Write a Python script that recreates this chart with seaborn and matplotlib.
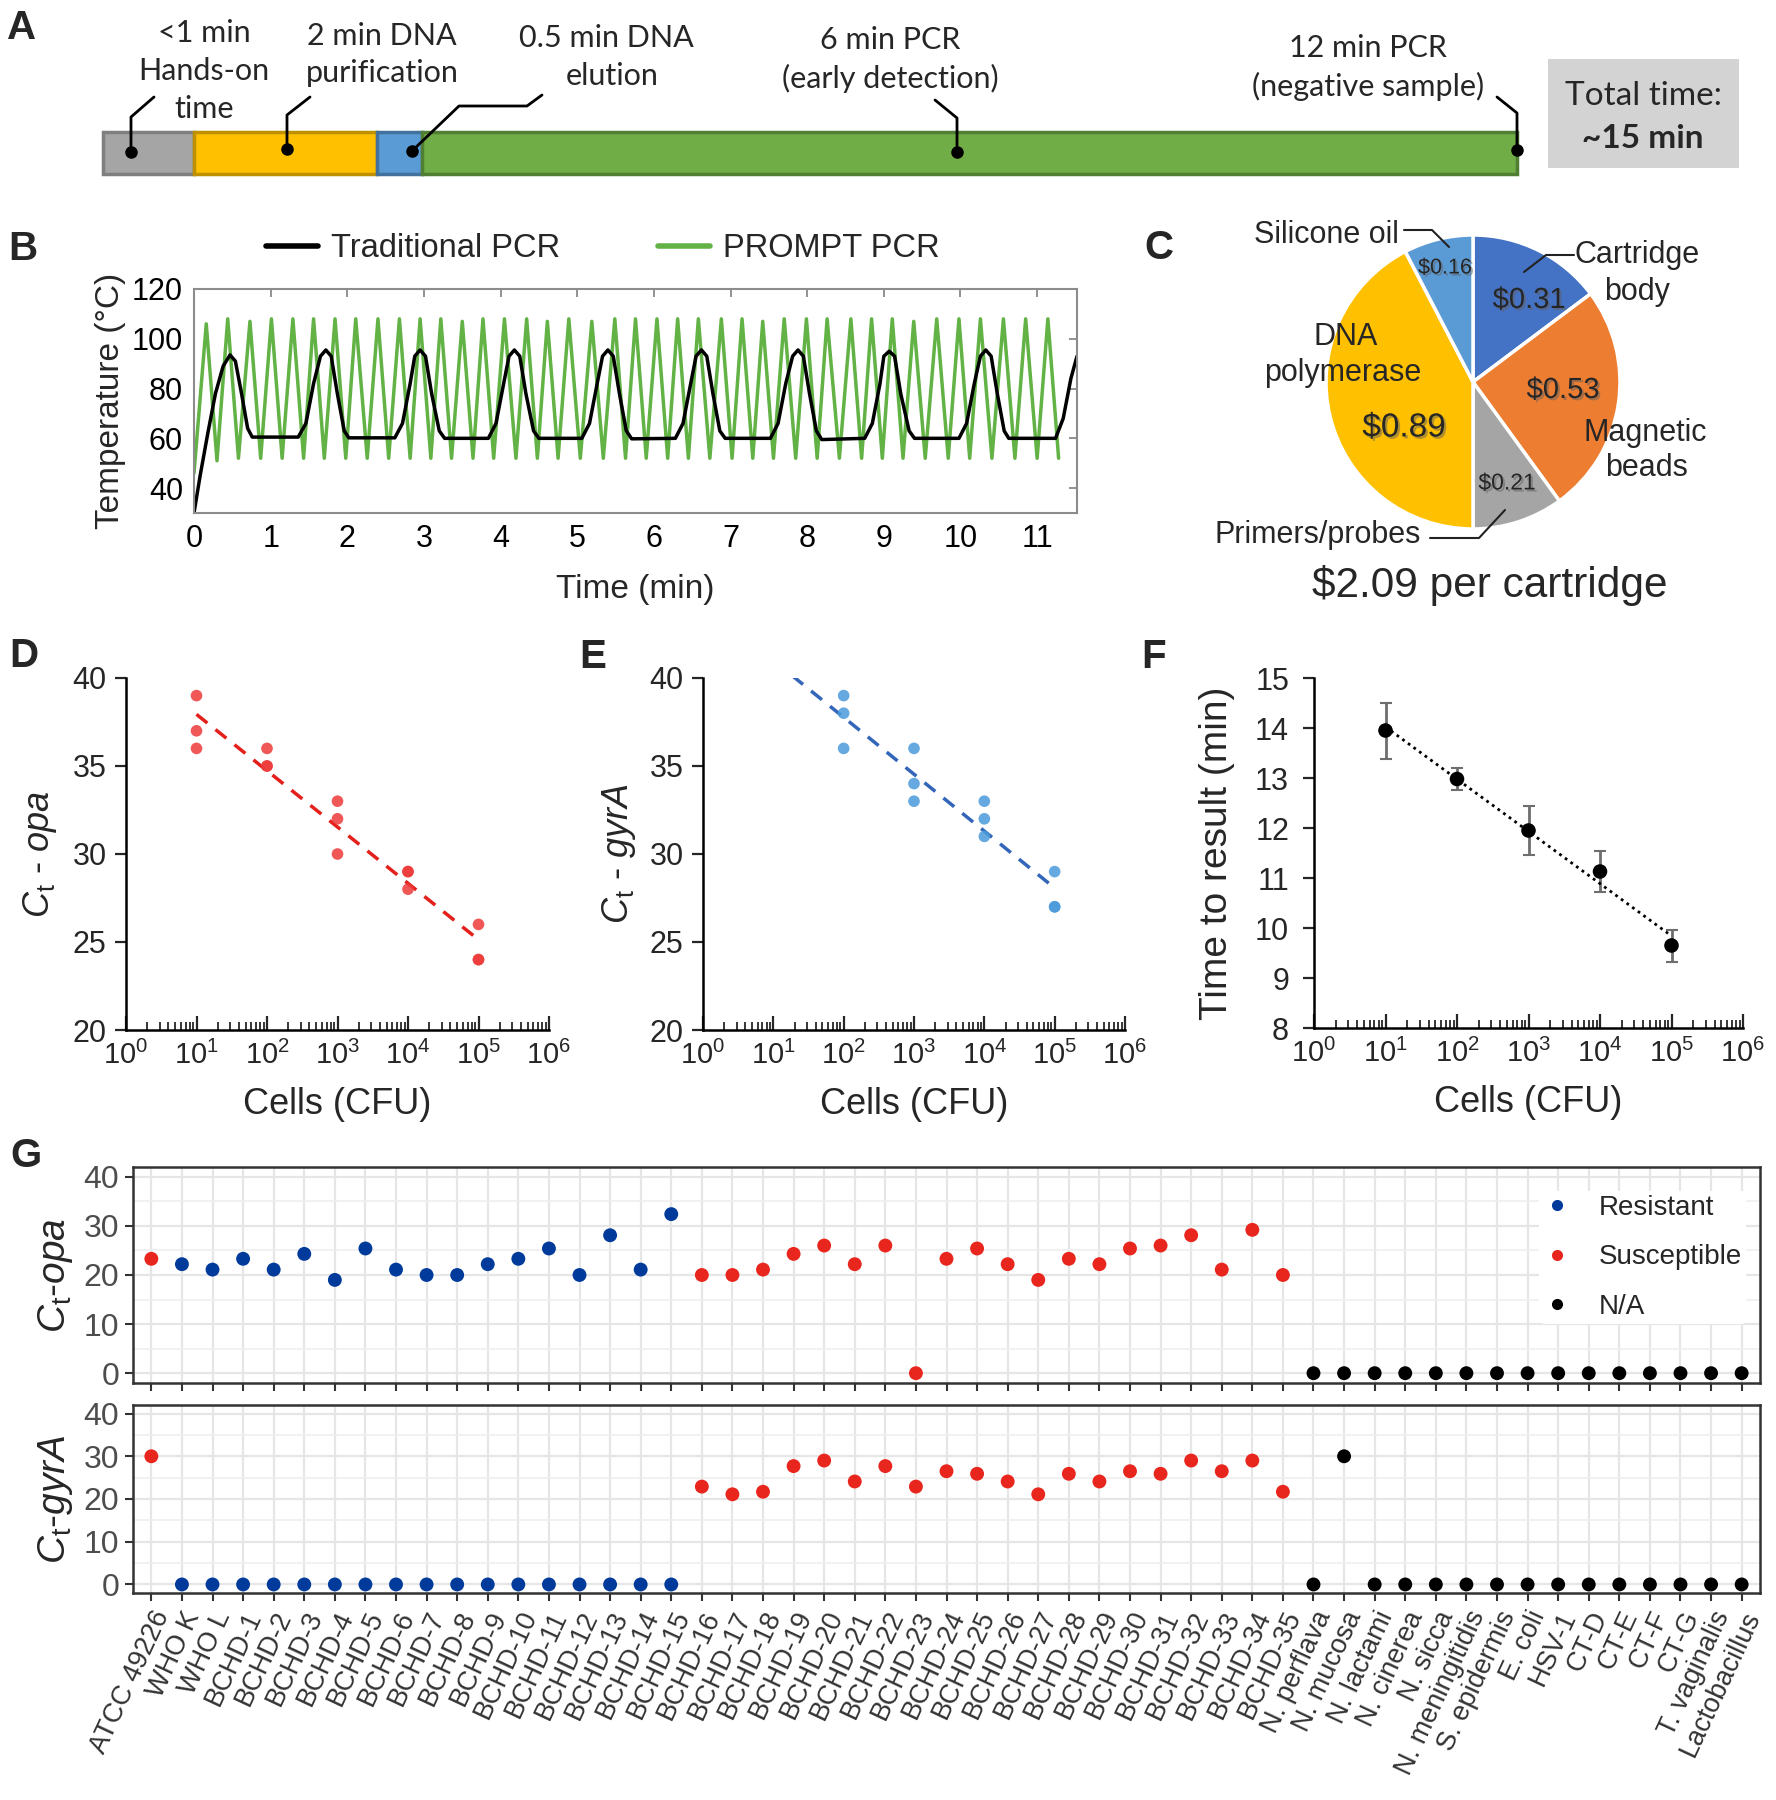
import numpy as np
import pandas as pd
import matplotlib
matplotlib.use("Agg")
import matplotlib.pyplot as plt
import matplotlib.patheffects as pe
from matplotlib.patches import Rectangle
from matplotlib.ticker import LogLocator, NullFormatter, MultipleLocator
import seaborn as sns

# ---------------- A: workflow timeline ----------------
stepMinutes = [1, 2, 0.5, 12]
stepColors = ["#A5A5A5", "#FFC000", "#5B9BD5", "#70AD47"]
stepEdges = ["#7F7F7F", "#BF9000", "#41719C", "#507E32"]

# ---------------- B: thermal profiles ----------------
tradTime = [0.00, 0.08, 0.18, 0.28, 0.38, 0.47, 0.54, 0.62, 0.70, 0.76,
            1.36, 1.46, 1.56, 1.65, 1.72, 1.79, 1.87, 1.96, 2.02,
            2.62, 2.72, 2.82, 2.88, 2.95, 3.02, 3.10, 3.20, 3.27,
            3.84, 3.94, 4.04, 4.11, 4.18, 4.25, 4.33, 4.43, 4.50,
            5.06, 5.16, 5.26, 5.33, 5.40, 5.47, 5.55, 5.64, 5.71,
            6.28, 6.38, 6.48, 6.55, 6.62, 6.69, 6.77, 6.86, 6.93,
            7.52, 7.62, 7.72, 7.81, 7.88, 7.95, 8.03, 8.12, 8.19,
            8.75, 8.85, 8.95, 9.00, 9.07, 9.14, 9.22, 9.33, 9.40,
            9.98, 10.08, 10.18, 10.26, 10.33, 10.40, 10.48, 10.57, 10.63,
            11.24, 11.34, 11.44, 11.52]
tradTemp = [30, 45, 62, 78, 89, 93.5, 91, 78, 64, 60.5,
            60.5, 66, 82, 93, 95.5, 93, 78, 63, 60.2,
            60.2, 66, 82, 93, 95.5, 93, 78, 63, 60,
            60, 66, 82, 93, 95.5, 93, 78, 63, 60,
            60, 66, 82, 93, 95.5, 93, 78, 63, 59.8,
            60, 66, 82, 93, 95.5, 93, 78, 63, 60,
            60, 66, 82, 93, 95.5, 93, 78, 63, 59.5,
            60, 66, 82, 93, 95, 93, 78, 63, 60,
            60, 66, 82, 93, 95.5, 93, 78, 63, 60,
            60, 68, 84, 93]
promptStart = (0.0, 46)
promptPeakTime = [0.16, 0.44, 0.73, 1.01, 1.29, 1.56, 1.84, 2.11, 2.40, 2.68,
                  2.95, 3.22, 3.50, 3.77, 4.05, 4.34, 4.61, 4.89, 5.19, 5.49,
                  5.76, 6.04, 6.31, 6.58, 6.88, 7.15, 7.42, 7.70, 7.99, 8.26,
                  8.57, 8.84, 9.11, 9.39, 9.69, 9.98, 10.26, 10.56, 10.85, 11.14]
promptPeakTemp = [106, 108, 107, 108, 108, 108, 108, 108, 108, 108,
                  108, 108, 107, 108, 108, 108, 107, 108, 107, 108,
                  108, 108, 108, 108, 108, 108, 107, 108, 108, 108,
                  108, 108, 108, 107, 108, 108, 108, 108, 108, 108]
promptTroughTime = [0.30, 0.58, 0.87, 1.15, 1.43, 1.70, 1.98, 2.26, 2.54, 2.82,
                    3.09, 3.36, 3.64, 3.91, 4.20, 4.48, 4.75, 5.04, 5.34, 5.63,
                    5.90, 6.18, 6.45, 6.73, 7.02, 7.29, 7.56, 7.85, 8.13, 8.42,
                    8.71, 8.98, 9.25, 9.54, 9.84, 10.12, 10.41, 10.71, 11.00, 11.28]
promptTroughTemp = [51, 52, 52, 52, 52, 52, 52, 52, 52, 52,
                    52, 52, 52, 52, 52, 52, 52, 52, 52, 52,
                    52, 52, 52, 52, 52, 52, 52, 52, 52, 52,
                    52, 52, 52, 52, 52, 52, 52, 52, 52, 52]

# ---------------- C: cost breakdown ----------------
costItems = ["Cartridge body", "Magnetic beads", "Primers/probes", "DNA polymerase", "Silicone oil"]
costValues = [0.31, 0.53, 0.21, 0.89, 0.16]
costColors = ["#4472C4", "#ED7D31", "#A5A5A5", "#FFC000", "#5B9BD5"]

# ---------------- D / E / F: dilution series ----------------
cellsD = [10, 10, 10, 100, 100, 100, 1e3, 1e3, 1e3, 1e4, 1e4, 1e4, 1e5, 1e5, 1e5]
ctOpa = [39, 37, 36, 36, 35, 35, 33, 32, 30, 29, 29, 28, 26, 24, 24]
cellsE = [100, 100, 100, 1e3, 1e3, 1e3, 1e4, 1e4, 1e4, 1e5, 1e5, 1e5]
ctGyrA = [39, 38, 36, 36, 34, 33, 33, 32, 31, 29, 27, 27]
trendX = [10, 1e5]
cellsF = [10, 100, 1e3, 1e4, 1e5]
timeF = [13.95, 12.98, 11.95, 11.13, 9.65]
errF = [0.56, 0.22, 0.49, 0.41, 0.32]

# ---------------- G: clinical isolates ----------------
strains = (["ATCC 49226", "WHO K", "WHO L"] + [f"BCHD-{i}" for i in range(1, 36)] +
           ["N. perflava", "N. mucosa", "N. lactami", "N. cinerea", "N. sicca",
            "N. meningitidis", "S. epidermis", "E. coli", "HSV-1", "CT-D", "CT-E",
            "CT-F", "CT-G", "T. vaginalis", "Lactobacillus"])
status = ["Susceptible"] + ["Resistant"] * 17 + ["Susceptible"] * 20 + ["N/A"] * 15
ctOpaG = [23.3, 22.2, 21.1, 23.3, 21.1, 24.3, 19.0, 25.4, 21.1, 20.0, 20.0, 22.2,
          23.3, 25.4, 20.0, 28.1, 21.1, 32.4,
          20.0, 20.0, 21.1, 24.3, 26.0, 22.2, 26.0, 0, 23.3, 25.4, 22.2, 19.0,
          23.3, 22.2, 25.4, 26.0, 28.1, 21.1, 29.2, 20.0,
          0, 0, 0, 0, 0, 0, 0, 0, 0, 0, 0, 0, 0, 0, 0]
ctGyrAG = [30, 0, 0, 0, 0, 0, 0, 0, 0, 0, 0, 0, 0, 0, 0, 0, 0, 0,
           22.9, 21.1, 21.7, 27.7, 29.0, 24.1, 27.7, 22.9, 26.5, 25.9, 24.1, 21.1,
           25.9, 24.1, 26.5, 25.9, 29.0, 26.5, 29.0, 21.7,
           0, 30, 0, 0, 0, 0, 0, 0, 0, 0, 0, 0, 0, 0, 0]
statusColors = {"Resistant": "#003A9B", "Susceptible": "#E8261E", "N/A": "#000000"}

sns.set_style("white")
plt.rcParams["font.family"] = ["Liberation Sans", "DejaVu Sans"]
plt.rcParams["mathtext.fontset"] = "custom"
plt.rcParams["mathtext.rm"] = "Liberation Sans"
plt.rcParams["mathtext.it"] = "Liberation Sans:italic"
plt.rcParams["mathtext.bf"] = "Liberation Sans:bold"
plt.rcParams["axes.unicode_minus"] = False

W, H = 1776, 1800
fig = plt.figure(figsize=(W / 100, H / 100), dpi=100)


def rect(x0, y0, x1, y1):
    return [x0 / W, 1 - y1 / H, (x1 - x0) / W, (y1 - y0) / H]


overlay = fig.add_axes([0, 0, 1, 1], zorder=10)
overlay.set_xlim(0, W)
overlay.set_ylim(H, 0)
overlay.axis("off")

# panel letters
for letter, x, y in [("A", 22, 28), ("B", 23, 249), ("C", 1159, 248), ("D", 24, 656),
                     ("E", 593, 657), ("F", 1154, 657), ("G", 26, 1156)]:
    overlay.text(x, y, letter, fontsize=29, fontweight="bold", ha="center", va="center")

# ---------------- A ----------------
pxPerMin = 91.2
barLeft = 103
axA = fig.add_axes(rect(0, 0, W, 210))
axA.set_xlim(-barLeft / pxPerMin, (W - barLeft) / pxPerMin)
axA.set_ylim(210, 0)
axA.axis("off")
starts = np.cumsum([0] + stepMinutes[:-1])
axA.barh(153, stepMinutes, left=starts, height=42, color=stepColors,
         edgecolor=stepEdges, linewidth=2.5)

leaders = [
    [(131, 152), (131, 117), (154, 97)],
    [(287, 149), (287, 115), (310, 97)],
    [(412, 151), (459, 106), (527, 106), (542, 95)],
    [(957, 152), (957, 118), (935, 100)],
    [(1517, 150), (1517, 113), (1497, 97)],
]
for pts in leaders:
    xs, ys = zip(*pts)
    overlay.plot(xs, ys, color="black", lw=2)
    overlay.plot(xs[0], ys[0], "o", color="black", ms=8)

aFont = ["Lato", "DejaVu Sans"]
for x, y, s in [(204, 33, "<1 min"), (204, 71, "Hands-on"), (204, 109, "time"),
                (382, 36, "2 min DNA"), (382, 73, "purification"),
                (606, 38, "0.5 min DNA"), (612, 76, "elution"),
                (890, 40, "6 min PCR"), (890, 78, "(early detection)"),
                (1368, 48, "12 min PCR"), (1368, 86, "(negative sample)")]:
    overlay.text(x, y, s, fontsize=22, family=aFont, ha="center", va="center")
overlay.add_patch(Rectangle((1548, 59), 191, 109, facecolor="#D3D3D3", edgecolor="none"))
overlay.text(1643, 96, "Total time:", fontsize=24, family=aFont, ha="center", va="center")
overlay.text(1643, 138, "~15 min", fontsize=24, family=aFont, fontweight="bold",
             ha="center", va="center")

# ---------------- B ----------------
promptTime = [promptStart[0]]
promptTemp = [promptStart[1]]
for pt, pv, tt, tv in zip(promptPeakTime, promptPeakTemp, promptTroughTime, promptTroughTemp):
    promptTime += [pt, tt]
    promptTemp += [pv, tv]
dfB = pd.DataFrame({
    "time": promptTime + tradTime,
    "temp": promptTemp + tradTemp,
    "protocol": ["PROMPT PCR"] * len(promptTime) + ["Traditional PCR"] * len(tradTime),
})
axB = fig.add_axes(rect(194, 289, 1077, 513))
sns.lineplot(data=dfB, x="time", y="temp", hue="protocol",
             hue_order=["PROMPT PCR", "Traditional PCR"],
             palette={"PROMPT PCR": "#62B246", "Traditional PCR": "black"},
             estimator=None, sort=False, linewidth=2.5, solid_joinstyle="round", ax=axB)
leg = axB.get_legend()
handles = list(leg.legend_handles)[::-1]
labels = [t.get_text() for t in leg.get_texts()][::-1]
legB = axB.legend(handles, labels, loc="center", bbox_to_anchor=(0.463, 1.179), ncol=2,
                  frameon=False, fontsize=23.5, handlelength=1.6, handletextpad=0.4,
                  columnspacing=3.0)
for h in legB.legend_handles:
    h.set_linewidth(4)
axB.set_xlim(0, 11.52)
axB.set_ylim(30, 120)
axB.set_xticks(range(0, 12))
axB.set_yticks([40, 60, 80, 100, 120])
axB.tick_params(direction="in", top=True, right=True, length=6, width=1.2,
                colors="#7F7F7F", labelcolor="black", labelsize=22, pad=8)
for sp in axB.spines.values():
    sp.set_color("#8C8C8C")
    sp.set_linewidth(1.5)
axB.set_xlabel("Time (min)", fontsize=24, labelpad=14)
axB.set_ylabel("Temperature (°C)", fontsize=24, labelpad=4)

# ---------------- C ----------------
half = 150
axC = fig.add_axes(rect(1473 - half, 382 - half, 1473 + half, 382 + half))
axC.pie(costValues, colors=costColors, startangle=90, counterclock=False, radius=1,
        wedgeprops=dict(edgecolor="white", linewidth=2.5))
axC.set_xlim(-half / 147, half / 147)
axC.set_ylim(-half / 147, half / 147)
shadow = [pe.SimplePatchShadow(offset=(1.5, -1.5), shadow_rgbFace="#606060", alpha=0.5), pe.Normal()]
for x, y, s, fs in [(1445, 268, "$0.16", 15.5), (1529, 300, "$0.31", 21), (1563, 390, "$0.53", 21),
                    (1507, 483, "$0.21", 16.5), (1404, 428, "$0.89", 24)]:
    overlay.text(x, y, s, fontsize=fs, ha="center", va="center", path_effects=shadow)
for x, y, s in [(1637, 255, "Cartridge"), (1637, 292, "body"), (1645, 433, "Magnetic"),
                (1647, 468, "beads"), (1346, 337, "DNA"), (1343, 373, "polymerase"),
                (1326, 235, "Silicone oil"), (1318, 535, "Primers/probes")]:
    overlay.text(x, y, s, fontsize=22, ha="center", va="center")
for pts in [[(1524, 272), (1546, 255), (1574, 255)],
            [(1404, 230), (1432, 230), (1449, 247)],
            [(1430, 538), (1479, 538), (1505, 510)]]:
    xs, ys = zip(*pts)
    overlay.plot(xs, ys, color="#222222", lw=1.5)
overlay.text(1490, 585, "$2.09 per cartridge", fontsize=30.5, ha="center", va="center")


# ---------------- D / E / F ----------------
def styleLog(ax, ylo, yhi, step):
    ax.set_xscale("log")
    ax.set_xlim(1, 1e6)
    ax.set_ylim(ylo, yhi)
    ax.yaxis.set_major_locator(MultipleLocator(step))
    ax.xaxis.set_major_locator(LogLocator(base=10, numticks=10))
    ax.xaxis.set_minor_locator(LogLocator(base=10, subs=np.arange(2, 10), numticks=20))
    ax.xaxis.set_minor_formatter(NullFormatter())
    sns.despine(ax=ax)
    for sp in ["left", "bottom"]:
        ax.spines[sp].set_linewidth(1.8)
        ax.spines[sp].set_color("black")
    ax.tick_params(axis="x", which="major", direction="in", length=10, width=1.6,
                   labelsize=21, pad=8, bottom=True)
    ax.tick_params(axis="x", which="minor", direction="in", length=6, width=1.3, bottom=True)
    ax.tick_params(axis="y", direction="out", length=8, width=1.6, labelsize=22, pad=6, left=True)
    ax.set_xlabel("Cells (CFU)", fontsize=26, labelpad=12)


axD = fig.add_axes(rect(126, 678, 549, 1030))
sns.scatterplot(x=cellsD, y=ctOpa, color="#EE3B3B", alpha=0.85, s=70, edgecolor="none",
                ax=axD, zorder=3)
fitD = np.polyfit(np.log10(cellsD), ctOpa, 1)
sns.lineplot(x=trendX, y=np.polyval(fitD, np.log10(trendX)), color="#E3201B",
             linestyle=(0, (4, 3)), linewidth=2.5, ax=axD)
styleLog(axD, 20, 40, 5)
axD.set_ylabel(r"$C_{\mathrm{t}}$ - $\mathit{opa}$", fontsize=26, labelpad=10)

axE = fig.add_axes(rect(703, 678, 1125, 1030))
sns.scatterplot(x=cellsE, y=ctGyrA, color="#4A9ADB", alpha=0.85, s=70, edgecolor="none",
                ax=axE, zorder=3)
fitE = np.polyfit(np.log10(cellsE), ctGyrA, 1)
sns.lineplot(x=trendX, y=np.polyval(fitE, np.log10(trendX)), color="#3366B8",
             linestyle=(0, (4, 3)), linewidth=2.5, ax=axE)
styleLog(axE, 20, 40, 5)
axE.set_ylabel(r"$C_{\mathrm{t}}$ - $\mathit{gyrA}$", fontsize=26, labelpad=8)

axF = fig.add_axes(rect(1314, 678, 1743, 1028))
axF.errorbar(cellsF, timeF, yerr=errF, fmt="none", ecolor="#6E6E6E", elinewidth=2,
             capsize=4, capthick=1.5, zorder=2)
fitF = np.polyfit(np.log10(cellsF), timeF, 1)
sns.lineplot(x=trendX, y=np.polyval(fitF, np.log10(trendX)), color="black",
             linestyle=(0, (1, 1.5)), linewidth=2, ax=axF)
sns.scatterplot(x=cellsF, y=timeF, color="black", s=110, edgecolor="none", ax=axF, zorder=3)
styleLog(axF, 8, 15, 1)
axF.tick_params(axis="y", pad=10)
axF.set_ylabel("Time to result (min)", fontsize=28, labelpad=14)

# ---------------- G ----------------
dfG = pd.DataFrame({"strain": strains, "opa": ctOpaG, "gyrA": ctGyrAG, "status": status})
axG1 = fig.add_axes(rect(133, 1167, 1760, 1383))
axG2 = fig.add_axes(rect(133, 1405, 1760, 1593))
for ax, col, showLegend in [(axG1, "opa", True), (axG2, "gyrA", False)]:
    sns.scatterplot(data=dfG, x="strain", y=col, hue="status",
                    hue_order=["Resistant", "Susceptible", "N/A"], palette=statusColors,
                    s=100, edgecolor="none", legend=showLegend, ax=ax, zorder=3)
    ax.set_xlim(-0.6, len(strains) - 0.4)
    ax.set_ylim(-2, 42)
    ax.set_xticks(range(len(strains)))
    ax.set_yticks([0, 10, 20, 30, 40])
    ax.yaxis.set_minor_locator(MultipleLocator(5))
    ax.set_axisbelow(True)
    ax.grid(which="major", axis="both", color="#E6E6E6", lw=1.6)
    ax.grid(which="minor", axis="y", color="#EEEEEE", lw=1.1)
    for sp in ax.spines.values():
        sp.set_color("#333333")
        sp.set_linewidth(1.8)
    ax.tick_params(axis="both", which="major", direction="out", length=6, width=1.5,
                   colors="#333333", labelcolor="#4D4D4D", labelsize=23, bottom=True, left=True,
                   pad=4)
    ax.tick_params(axis="y", which="minor", length=0)
    ax.set_xlabel("")
axG1.tick_params(labelbottom=False)
axG2.set_xticks(range(len(strains)))
axG2.set_xticklabels(strains, rotation=65, ha="right", va="top", rotation_mode="anchor",
                     fontsize=19.5, color="#333333")
axG1.set_ylabel(r"$C_{\mathrm{t}}$-$\mathit{opa}$", fontsize=28, labelpad=6)
axG2.set_ylabel(r"$C_{\mathrm{t}}$-$\mathit{gyrA}$", fontsize=28, labelpad=6)

legG = axG1.get_legend()
gh = list(legG.legend_handles)
gl = [t.get_text() for t in legG.get_texts()]
newLeg = axG1.legend(gh, gl, loc="upper right", bbox_to_anchor=(1.0, 0.954), frameon=True,
                     facecolor="white", edgecolor="none", framealpha=1, fontsize=20,
                     handlelength=1, handletextpad=1.0, labelspacing=0.84, borderpad=0.15)
for h in newLeg.legend_handles:
    h.set_markersize(8)

fig.savefig("out.png", dpi=100)
